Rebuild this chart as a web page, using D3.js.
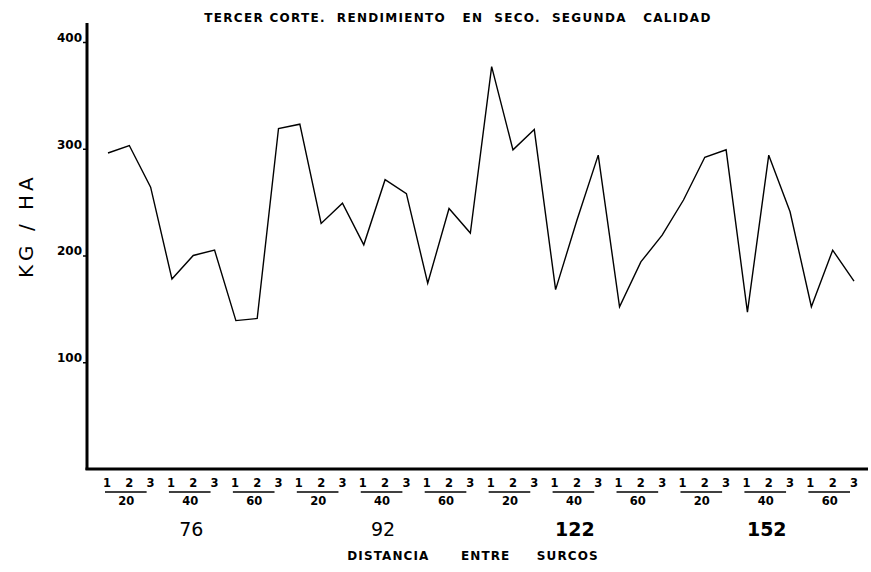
<!DOCTYPE html>
<html>
<head>
<meta charset="utf-8">
<script src="https://cdn.jsdelivr.net/npm/d3@7"></script>
<style>
  body { margin: 0; background: #fff; }
  svg { display: block; }
  text { fill: #000; font-family: "DejaVu Sans", sans-serif; }
</style>
</head>
<body>
<svg id="chart" width="871" height="572"></svg>
<script>
// rendimiento kg/ha, 36 parcelas (4 distancias x 3 densidades x 3 repeticiones)
const values = [296, 303, 264, 178, 200, 205, 139, 141, 319,
                323, 230, 249, 210, 271, 258, 174, 244, 221,
                377, 299, 318, 168, 233, 294, 152, 194, 219,
                252, 292, 299, 147, 294, 241, 152, 205, 176];
const reps = ['1', '2', '3'];
const densities = ['20', '40', '60'];
const distances = ['76', '92', '122', '152'];
const yTicks = [100, 200, 300, 400];

const svg = d3.select('svg#chart');

const x0 = 87, x1 = 868, yBase = 469;

const x = d3.scaleLinear().domain([0, values.length - 1]).range([108, 854]);
const y = d3.scaleLinear().domain([0, 400]).range([yBase, 42]);

// title
svg.append('text')
    .attr('x', 458).attr('y', 22)
    .attr('text-anchor', 'middle')
    .style('font-size', '12px').style('font-weight', 'bold')
    .style('letter-spacing', '1.3px')
    .attr('xml:space', 'preserve')
    .text('TERCER CORTE.  RENDIMIENTO   EN  SECO.  SEGUNDA   CALIDAD');

// y axis
const yAxis = d3.axisLeft(y).tickValues(yTicks).tickSize(4).tickPadding(1);
const gy = svg.append('g').attr('transform', `translate(${x0},0)`).call(yAxis);
gy.select('.domain').remove();
gy.selectAll('line').attr('stroke', '#000').attr('stroke-width', 1.5);
gy.selectAll('text')
    .style('font-size', '12px').style('font-weight', 'bold')
    .attr('dy', '-0.05em');

svg.append('line')
    .attr('x1', x0).attr('x2', x0)
    .attr('y1', 23).attr('y2', yBase + 1)
    .attr('stroke', '#000').attr('stroke-width', 3);

// x axis
svg.append('line')
    .attr('x1', x0 - 1.5).attr('x2', x1)
    .attr('y1', yBase).attr('y2', yBase)
    .attr('stroke', '#000').attr('stroke-width', 3);

svg.append('text')
    .attr('transform', `translate(26,${y(228)}) rotate(-90)`)
    .attr('text-anchor', 'middle')
    .attr('dy', '0.35em')
    .attr('xml:space', 'preserve')
    .style('font-size', '20px')
    .style('letter-spacing', '4px')
    .text('KG / HA');

// data line
const line = d3.line().x((d, i) => x(i)).y(d => y(d));
svg.append('path')
    .datum(values)
    .attr('fill', 'none')
    .attr('stroke', '#000')
    .attr('stroke-width', 1.4)
    .attr('stroke-linejoin', 'miter')
    .attr('d', line);

// category labels
const groups = d3.range(values.length / 3);
const gLab = svg.append('g');

gLab.selectAll('text.rep')
    .data(d3.range(values.length))
    .join('text')
    .attr('class', 'rep')
    .attr('x', i => x(i) + (i % 3 === 0 ? -1 : 0))
    .attr('y', 487)
    .attr('text-anchor', 'middle')
    .style('font-size', '11.5px').style('font-weight', 'bold')
    .text(i => reps[i % 3]);

gLab.selectAll('line.sep')
    .data(groups)
    .join('line')
    .attr('class', 'sep')
    .attr('x1', g => x(g * 3) - 3)
    .attr('x2', g => x(g * 3 + 2) - 4)
    .attr('y1', 492).attr('y2', 492)
    .attr('stroke', '#000').attr('stroke-width', 1.3);

gLab.selectAll('text.dens')
    .data(groups)
    .join('text')
    .attr('class', 'dens')
    .attr('x', g => x(g * 3 + 1) - 3)
    .attr('y', 505)
    .attr('text-anchor', 'middle')
    .style('font-size', '11.5px').style('font-weight', 'bold')
    .text(g => densities[g % 3]);

gLab.selectAll('text.dist')
    .data(distances)
    .join('text')
    .attr('class', 'dist')
    .attr('x', (d, k) => x(k * 9 + 4) - 2)
    .attr('y', 536)
    .attr('text-anchor', 'middle')
    .style('font-size', '19px')
    .style('font-weight', (d, k) => k >= 2 ? 'bold' : 'normal')
    .text(d => d);

svg.append('text')
    .attr('x', 473).attr('y', 560)
    .attr('text-anchor', 'middle')
    .attr('xml:space', 'preserve')
    .style('font-size', '12px').style('font-weight', 'bold')
    .style('letter-spacing', '1.1px')
    .text('DISTANCIA      ENTRE     SURCOS');
</script>
</body>
</html>
